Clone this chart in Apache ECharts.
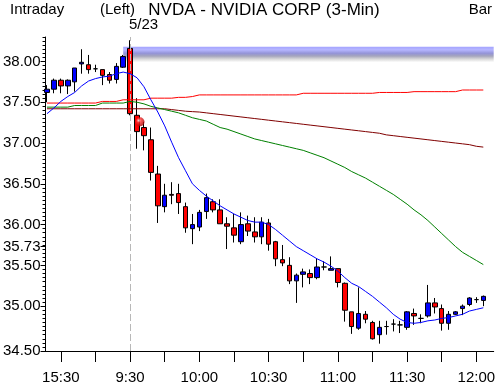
<!DOCTYPE html>
<html>
<head>
<meta charset="utf-8">
<script src="https://cdn.jsdelivr.net/npm/echarts@6/dist/echarts.min.js"></script>
<style>
html,body{margin:0;padding:0;background:#fff;}
#c{width:498px;height:387px;}
</style>
</head>
<body>
<div id="c"></div>
<script>
// ---- data ----
const categories = [
  '15:24','15:27','15:30','15:33','15:36','15:39','15:42','15:45','15:48','15:51','15:54','15:57',
  '9:30','9:33','9:36','9:39','9:42','9:45','9:48','9:51','9:54','9:57',
  '10:00','10:03','10:06','10:09','10:12','10:15','10:18','10:21','10:24','10:27',
  '10:30','10:33','10:36','10:39','10:42','10:45','10:48','10:51','10:54','10:57',
  '11:00','11:03','11:06','11:09','11:12','11:15','11:18','11:21','11:24','11:27',
  '11:30','11:33','11:36','11:39','11:42','11:45','11:48','11:51','11:54','11:57',
  '12:00','12:03','12:06'
];
// [open, close, low, high]
const ohlc = [
  [37.62,37.66,37.50,37.71],[37.66,37.77,37.61,37.79],[37.77,37.70,37.61,37.79],[37.70,37.77,37.60,37.78],
  [37.75,37.92,37.63,37.92],[37.97,37.99,37.85,38.15],[37.96,37.90,37.85,38.08],[37.91,37.91,37.87,37.96],
  [37.90,37.83,37.71,37.90],[37.84,37.77,37.73,37.87],[37.78,37.94,37.73,37.98],[37.93,38.06,37.92,38.08],
  [38.16,37.36,37.34,38.26],[37.34,37.14,36.93,37.55],[37.19,37.09,36.91,37.26],[37.04,36.64,36.54,37.19],
  [36.62,36.23,36.02,36.72],[36.22,36.36,36.15,36.50],[36.37,36.36,36.25,36.52],[36.38,36.27,36.13,36.50],
  [36.22,35.96,35.90,36.27],[35.95,36.00,35.76,36.13],[35.97,36.15,35.92,36.18],[36.16,36.33,36.07,36.38],
  [36.28,36.18,36.15,36.31],[36.18,36.01,36.01,36.31],[36.01,35.98,35.70,36.09],[35.96,35.87,35.78,36.13],
  [35.79,36.00,35.76,36.15],[36.01,35.92,35.86,36.11],[35.91,35.85,35.78,36.09],[35.85,36.03,35.76,36.09],
  [36.02,35.76,35.68,36.07],[35.79,35.58,35.49,35.80],[35.57,35.53,35.49,35.75],[35.50,35.31,35.27,35.60],
  [35.31,35.38,35.04,35.40],[35.39,35.42,35.23,35.46],[35.40,35.35,35.27,35.45],[35.35,35.48,35.33,35.58],
  [35.48,35.48,35.44,35.55],[35.44,35.46,35.44,35.61],[35.46,35.29,35.23,35.46],[35.28,34.95,34.81,35.29],
  [34.93,34.75,34.66,34.93],[34.73,34.91,34.71,35.23],[34.90,34.84,34.79,34.94],[34.80,34.60,34.59,34.82],
  [34.65,34.74,34.54,34.82],[34.75,34.75,34.65,34.82],[34.78,34.78,34.69,34.84],[34.77,34.77,34.67,34.82],
  [34.74,34.93,34.71,34.94],[34.91,34.88,34.77,34.97],[34.85,34.85,34.79,34.90],[34.88,35.04,34.86,35.26],
  [35.04,34.99,34.91,35.10],[34.97,34.79,34.70,35.02],[34.79,34.90,34.71,34.94],[34.90,34.93,34.89,34.94],
  [34.97,35.00,34.89,35.02],[35.02,35.10,35.00,35.11],[35.08,35.08,35.04,35.11],[35.07,35.12,35.00,35.13]
];
const maBlue = [
  37.36,37.43,37.51,37.57,37.62,37.70,37.76,37.79,37.81,37.82,37.85,37.87,
  37.85,37.80,37.69,37.53,37.38,37.21,37.01,36.82,36.66,36.50,36.42,36.35,36.29,36.23,36.18,36.13,36.09,36.05,
  36.03,36.03,36.00,35.94,35.87,35.80,35.73,35.68,35.63,35.58,35.54,35.49,35.43,35.35,35.28,35.24,35.18,35.12,
  35.05,34.98,34.90,34.84,34.80,34.79,34.80,34.82,34.83,34.85,34.86,34.88,34.90,34.94,34.96,34.98
];
const maGreen = [
  37.44,37.44,37.44,37.44,37.46,37.46,37.46,37.46,37.49,37.49,37.49,37.49,
  37.51,37.50,37.48,37.45,37.43,37.41,37.39,37.37,37.34,37.31,37.29,37.27,37.23,37.19,37.17,37.14,37.11,37.08,
  37.05,37.03,37.01,36.99,36.97,36.95,36.93,36.91,36.88,36.85,36.82,36.78,36.74,36.70,36.65,36.61,36.57,36.52,
  36.47,36.42,36.37,36.31,36.25,36.18,36.12,36.05,35.97,35.89,35.81,35.73,35.66,35.61,35.56,35.51
];
const maRed = [
  37.49,37.49,37.49,37.49,37.49,37.49,37.49,37.49,37.51,37.51,37.51,37.53,
  37.53,37.53,37.53,37.55,37.55,37.55,37.55,37.56,37.56,37.57,37.59,37.59,37.59,37.59,37.59,37.59,37.59,37.59,
  37.59,37.59,37.59,37.59,37.59,37.59,37.59,37.61,37.61,37.61,37.61,37.61,37.61,37.61,37.61,37.61,37.61,37.61,
  37.62,37.62,37.62,37.62,37.62,37.63,37.63,37.63,37.63,37.63,37.63,37.63,37.65,37.65,37.65,37.65
];
const maMaroon = [
  37.42,37.42,37.42,37.42,37.42,37.42,37.42,37.42,37.42,37.42,37.42,37.42,
  37.42,37.42,37.42,37.42,37.42,37.42,37.41,37.40,37.39,37.385,37.38,37.37,37.36,37.35,37.34,37.33,37.32,37.31,
  37.30,37.29,37.28,37.27,37.26,37.25,37.24,37.23,37.22,37.21,37.20,37.19,37.18,37.17,37.16,37.15,37.14,37.13,
  37.12,37.10,37.09,37.08,37.07,37.06,37.05,37.04,37.03,37.02,37.01,37.00,36.99,36.98,36.96,36.95
];
const bandLevel = { from: '15:57', high: 38.18, low: 37.99 };
const marker = ['9:33', 37.26];
const dayStart = '9:30';
const yTickValues = [34.45, 35.00, 35.50, 35.73, 36.00, 36.50, 37.00, 37.50, 38.00];
const yTickLabels = ['34.50', '35.00', '35.50', '35.73', '36.00', '36.50', '37.00', '37.50', '38.00'];
const yMin = 34.45, yMax = 38.30, yMinorStep = 0.05;

// ---- chart ----
const FONT = "'Liberation Sans', Arial, sans-serif";
const chart = echarts.init(document.getElementById('c'), null, { renderer: 'canvas' });
const lineSeries = (data, color) => ({
  type: 'line', data: data, showSymbol: false, symbol: 'none', smooth: false,
  lineStyle: { color: color, width: 1 }, z: 5, silent: true
});
chart.setOption({
  animation: false,
  backgroundColor: '#fff',
  grid: { left: 40, right: 3, top: 37, bottom: 36 },
  xAxis: {
    type: 'category', data: categories, boundaryGap: true,
    axisLine: { show: true, lineStyle: { color: '#000', width: 1 } },
    axisTick: { show: true, alignWithLabel: true, length: 11, lineStyle: { color: '#000', width: 1 },
      interval: (i) => i >= 2 && (i - 2) % 5 === 0 },
    axisLabel: { show: true, interval: (i) => i >= 2 && (i - 2) % 10 === 0, color: '#000', fontFamily: FONT, fontSize: 15, margin: 19 },
    splitLine: { show: false }
  },
  yAxis: [{
    type: 'value', min: yMin, max: yMax, position: 'left', offset: -2,
    axisLine: { show: true, lineStyle: { color: '#000', width: 1 } },
    axisTick: { show: true, length: 5, customValues: yTickValues, lineStyle: { color: '#000', width: 1 } },
    axisLabel: { show: true, customValues: yTickValues, color: '#000', fontFamily: FONT, fontSize: 15, margin: 5,
      formatter: (v) => { const i = yTickValues.findIndex(t => Math.abs(t - v) < 1e-6); return i >= 0 ? yTickLabels[i] : ''; } },
    splitLine: { show: false }
  }, {
    type: 'value', min: yMin, max: yMax, interval: yMinorStep, position: 'left', offset: -2,
    axisLine: { show: false },
    axisTick: { show: true, length: 3, lineStyle: { color: '#000', width: 1 } },
    axisLabel: { show: false },
    splitLine: { show: false }
  }],
  series: [
    {
      type: 'candlestick', data: ohlc, barWidth: 5, z: 3,
      itemStyle: { color: '#0000ff', color0: '#ff0000', borderColor: '#000', borderColor0: '#000', borderWidth: 1 },
      markArea: {
        silent: true, z: 1,
        itemStyle: {
          color: new echarts.graphic.LinearGradient(0, 0, 0, 1, [
            { offset: 0, color: '#a4a4ff' }, { offset: 0.2, color: '#b6b6ff' },
            { offset: 0.42, color: '#9494d8' }, { offset: 0.6, color: '#a6a6bc' },
            { offset: 0.8, color: '#dadada' }, { offset: 1, color: '#ffffff' }
          ])
        },
        data: [[{ xAxis: bandLevel.from, yAxis: bandLevel.high }, { xAxis: Infinity, yAxis: bandLevel.low }]]
      },
      markLine: {
        silent: true, symbol: 'none', label: { show: false },
        lineStyle: { color: '#b8b8b8', type: [7, 3], width: 1 },
        data: [{ xAxis: dayStart }]
      }
    },
    lineSeries(maMaroon, '#800000'),
    lineSeries(maRed, '#ff0000'),
    lineSeries(maGreen, '#008000'),
    lineSeries(maBlue, '#0000ff'),
    {
      type: 'scatter', data: [marker], symbolSize: 9, symbolOffset: [3, 0], z: 6, silent: true,
      itemStyle: { color: new echarts.graphic.RadialGradient(0.35, 0.35, 0.7, [
        { offset: 0, color: '#ffffff' }, { offset: 0.35, color: '#ff3030' }, { offset: 1, color: '#a00000' }
      ]) }
    }
  ],
  graphic: [
    { type: 'text', x: 10, y: 10, style: { text: 'Intraday', font: '15px ' + FONT, fill: '#000', verticalAlign: 'middle' } },
    { type: 'text', x: 100, y: 10, style: { text: '(Left)', font: '15px ' + FONT, fill: '#000', verticalAlign: 'middle' } },
    { type: 'text', x: 264, y: 10, style: { text: 'NVDA - NVIDIA CORP (3-Min)', font: '17px ' + FONT, fill: '#000', align: 'center', verticalAlign: 'middle' } },
    { type: 'text', x: 492, y: 10, style: { text: 'Bar', font: '15px ' + FONT, fill: '#000', align: 'right', verticalAlign: 'middle' } },
    { type: 'text', x: 129, y: 25, style: { text: '5/23', font: '15px ' + FONT, fill: '#000', verticalAlign: 'middle' } }
  ]
});
</script>
</body>
</html>
